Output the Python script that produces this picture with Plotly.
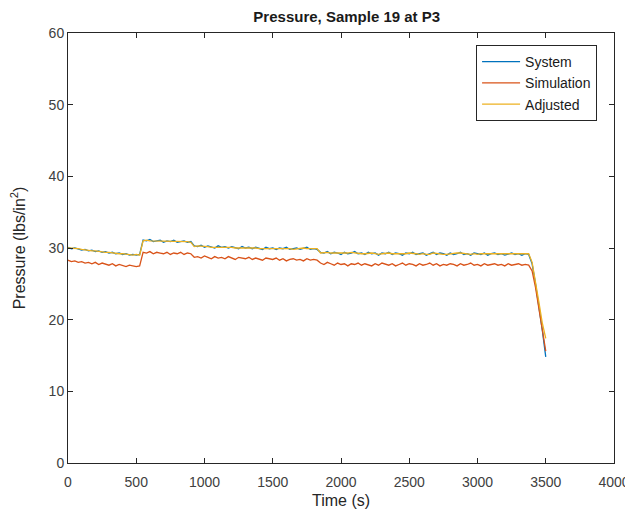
import plotly.graph_objects as go

time_s = [0, 25, 50, 75, 100, 125, 150, 175, 200, 225, 250, 275, 300, 325, 350, 375, 400, 425, 450, 475,
          500, 525, 550, 575, 600, 625, 650, 675, 700, 725, 750, 775, 800, 825, 850, 875,
          900, 925, 950, 975, 1000, 1025, 1050, 1075, 1100, 1125, 1150, 1175, 1200, 1225, 1250, 1275,
          1300, 1325, 1350, 1375, 1400, 1425, 1450, 1475, 1500, 1525, 1550, 1575, 1600, 1625, 1650, 1675,
          1700, 1725, 1750, 1775, 1800, 1825, 1850, 1875, 1900, 1925, 1950, 1975, 2000, 2025, 2050, 2075,
          2100, 2125, 2150, 2175, 2200, 2225, 2250, 2275, 2300, 2325, 2350, 2375, 2400, 2425, 2450, 2475,
          2500, 2525, 2550, 2575, 2600, 2625, 2650, 2675, 2700, 2725, 2750, 2775, 2800, 2825, 2850, 2875,
          2900, 2925, 2950, 2975, 3000, 3025, 3050, 3075, 3100, 3125, 3150, 3175, 3200, 3225, 3250, 3275,
          3300, 3325, 3350, 3375, 3400, 3425, 3450, 3475, 3500]

system = [
    30.1, 29.9, 30.0, 29.8, 29.7, 29.8, 29.6, 29.7, 29.5, 29.6, 29.4, 29.5, 29.3, 29.4, 29.2, 29.3,
    29.1, 29.2, 29.0, 29.1, 29.0, 29.1,
    31.1, 31.0, 31.2, 30.9, 31.0, 31.1, 30.8, 31.0, 30.9, 31.1, 30.8, 30.9, 31.0, 30.8, 30.9,
    30.3, 30.2, 30.4, 30.1, 30.3, 30.2, 30.0, 30.3, 30.1, 30.2, 30.0, 30.2, 30.1, 29.9, 30.2, 30.0,
    30.1, 29.9, 30.1, 30.0, 29.8, 30.1, 29.9, 30.0, 29.8, 30.0, 29.9, 30.1, 29.8, 29.9, 30.0, 29.8,
    29.9, 30.1, 29.8, 29.9, 29.8,
    29.4, 29.3, 29.5, 29.2, 29.4, 29.3, 29.1, 29.4, 29.2, 29.3, 29.5, 29.2, 29.3, 29.1, 29.4, 29.2,
    29.3, 29.0, 29.3, 29.2, 29.4, 29.1, 29.3, 29.2, 29.0, 29.3, 29.2, 29.4, 29.1, 29.2, 29.3, 29.0,
    29.2, 29.4, 29.1, 29.3, 29.2, 29.0, 29.3, 29.1, 29.2, 29.4, 29.1, 29.2, 29.0, 29.3, 29.2, 29.1,
    29.3, 29.0, 29.2, 29.3, 29.1, 29.2, 29.0, 29.2, 29.3, 29.1, 29.2, 29.0, 29.2,
    29.1, 27.8, 25.0, 22.0, 18.5, 14.8]

simulation = [
    28.3, 28.1, 28.2, 28.0, 28.1, 27.9, 28.0, 27.8, 28.0, 27.7, 27.9, 27.8, 27.6, 27.8, 27.5, 27.7,
    27.6, 27.4, 27.6, 27.5, 27.4, 27.5,
    29.4, 29.3, 29.5, 29.2, 29.4, 29.3, 29.2, 29.4, 29.1, 29.3, 29.2, 29.4, 29.1, 29.3, 29.2,
    28.7, 28.8, 28.6, 28.9, 28.7, 28.5, 28.8, 28.6, 28.7, 28.5, 28.8, 28.6, 28.4, 28.7, 28.6, 28.5,
    28.7, 28.4, 28.6, 28.5, 28.3, 28.6, 28.5, 28.4, 28.6, 28.3, 28.5, 28.2, 28.4, 28.5, 28.3, 28.4,
    28.2, 28.5, 28.3, 28.4, 28.3,
    27.9, 27.7, 28.0, 27.8, 27.6, 27.9, 27.7, 27.8, 27.5, 27.8, 27.7, 27.9, 27.6, 27.8, 27.7, 27.5,
    27.8, 27.6, 27.9, 27.7, 27.6, 27.8, 27.5, 27.7, 27.9, 27.6, 27.8, 27.7, 27.5, 27.8, 27.6, 27.7,
    27.9, 27.6, 27.8, 27.5, 27.7, 27.6, 27.8, 27.7, 27.5, 27.8, 27.6, 27.7, 27.9, 27.6, 27.7, 27.5,
    27.8, 27.6, 27.7, 27.8, 27.6, 27.7, 27.5, 27.8, 27.6, 27.7, 27.8, 27.6, 27.7,
    27.6, 26.8, 24.5, 21.5, 18.0, 15.6]

adjusted = [
    30.0, 30.0, 29.9, 29.9, 29.8, 29.7, 29.7, 29.6, 29.6, 29.5, 29.5, 29.4, 29.4, 29.3, 29.3, 29.2,
    29.2, 29.1, 29.1, 29.0, 29.1, 29.0,
    31.0, 31.1, 31.0, 31.0, 30.9, 31.0, 30.9, 30.9, 31.0, 30.9, 30.9, 31.0, 30.9, 30.9, 30.8,
    30.2, 30.3, 30.3, 30.2, 30.2, 30.1, 30.1, 30.2, 30.2, 30.1, 30.1, 30.1, 30.0, 30.0, 30.1, 30.1,
    30.0, 30.0, 30.0, 29.9, 29.9, 30.0, 30.0, 29.9, 29.9, 29.9, 30.0, 30.0, 29.9, 29.8, 29.9, 29.9,
    30.0, 29.9, 29.9, 29.8, 29.9,
    29.3, 29.4, 29.4, 29.3, 29.3, 29.2, 29.2, 29.3, 29.3, 29.4, 29.3, 29.3, 29.2, 29.2, 29.3, 29.3,
    29.2, 29.1, 29.2, 29.3, 29.3, 29.2, 29.2, 29.1, 29.1, 29.2, 29.3, 29.3, 29.2, 29.1, 29.2, 29.1,
    29.1, 29.3, 29.2, 29.2, 29.1, 29.1, 29.2, 29.2, 29.3, 29.3, 29.2, 29.1, 29.1, 29.2, 29.1, 29.2,
    29.2, 29.1, 29.1, 29.2, 29.2, 29.1, 29.1, 29.2, 29.2, 29.1, 29.1, 29.1, 29.2,
    29.2, 28.0, 25.4, 22.4, 19.5, 17.4]

series_names = ["System", "Simulation", "Adjusted"]
series_colors = ["#0072BD", "#D95319", "#EDB120"]
x_ticks = [0, 500, 1000, 1500, 2000, 2500, 3000, 3500, 4000]
y_ticks = [0, 10, 20, 30, 40, 50, 60]

FONT = "Liberation Sans, Arial, sans-serif"
W, H = 625, 507  # page body has an 8px default margin inside the 633x515 window

fig = go.Figure()
for name, vals, col in zip(series_names, [system, simulation, adjusted], series_colors):
    fig.add_trace(go.Scatter(x=time_s[:len(vals)], y=vals, mode="lines", name=name,
                             line=dict(color=col, width=1.3)))

axis_common = dict(showline=True, linecolor="#262626", linewidth=1, mirror="ticks",
                   ticks="inside", ticklen=5, tickcolor="#262626", showgrid=False,
                   zeroline=False, automargin=False,
                   tickfont=dict(family=FONT, size=14, color="#404040"))

fig.update_layout(
    width=W, height=H,
    margin=dict(l=60, r=19, t=25, b=52),
    paper_bgcolor="white", plot_bgcolor="white",
    title=dict(text="<b>Pressure, Sample 19 at P3</b>", x=0.542, xanchor="center",
               y=1 - 8.5 / H, yanchor="middle",
               font=dict(family=FONT, size=15, color="#1a1a1a")),
    xaxis=dict(range=[0, 4000], tickvals=x_ticks, ticktext=[str(v) for v in x_ticks],
               ticklabelstandoff=6,
               title=dict(text="Time (s)", font=dict(family=FONT, size=16, color="#262626"), standoff=6),
               **axis_common),
    yaxis=dict(range=[0, 60], tickvals=y_ticks, ticktext=[str(v) for v in y_ticks],
               title=dict(text="Pressure (lbs/in<sup>2</sup>)", font=dict(family=FONT, size=16, color="#262626"), standoff=19),
               **axis_common),
    legend=dict(x=0.969, xanchor="right", y=0.972, yanchor="top",
                bgcolor="white", bordercolor="#262626", borderwidth=1,
                font=dict(family=FONT, size=14, color="#1a1a1a"),
                itemwidth=38, tracegroupgap=0),
    showlegend=True,
)

fig.write_html("out.html")
